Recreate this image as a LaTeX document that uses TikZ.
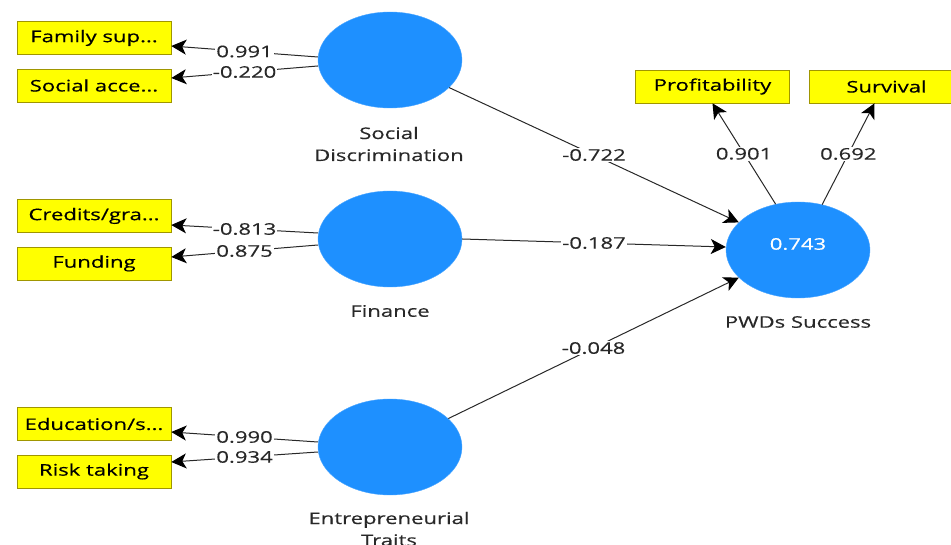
\documentclass[tikz,border=0pt]{standalone}
\usepackage{fontspec}
\setmainfont[FakeStretch=1.38,FakeBold=0.4]{Open Sans}
\usetikzlibrary{shapes.geometric,arrows.meta}
\definecolor{lvblue}{RGB}{30,144,255}
\definecolor{mvyellow}{RGB}{255,255,0}
\definecolor{mvborder}{RGB}{160,150,0}
\definecolor{txtgray}{RGB}{40,40,40}
\tikzset{
  latent/.style={ellipse, fill=lvblue, draw=lvblue!80!white, minimum width=144pt, minimum height=96pt, inner sep=0pt},
  manifest/.style={rectangle, fill=mvyellow, draw=mvborder, line width=0.6pt, minimum width=154pt, minimum height=33pt, inner sep=0pt, text=black},
  lvname/.style={text=txtgray, align=center},
  conn/.style={draw=txtgray, line width=1pt, -{Stealth[length=15pt,width=15pt,inset=4pt,fill=black,color=black]}},
  coef/.style={fill=white, inner sep=1pt, text=txtgray, pos=0.5}
}
\begin{document}
\begin{tikzpicture}[x=1pt,y=-1pt,font=\fontsize{16}{22}\selectfont]
\useasboundingbox (0,0) rectangle (951,545);
% latent variables
\node[latent] (sd) at (390,60) {};
\node[latent] (fin) at (390,239) {};
\node[latent] (ent) at (390,447) {};
\node[latent] (pwd) at (798,250) {};
\node[text=white] (r2) at (798,244) {0.743};
% latent names
\node[lvname] (sdl) at (389,144) {Social\\Discrimination};
\node[lvname] (finl) at (390,311) {Finance};
\node[lvname] (entl) at (389,529) {Entrepreneurial\\Traits};
\node[lvname] (pwdl) at (798,322) {PWDs Success};
% manifest variables
\node[manifest] (fam) at (94,38) {Family sup...};
\node[manifest] (soc) at (94,85.5) {Social acce...};
\node[manifest] (cred) at (94,216) {Credits/gra...};
\node[manifest] (fund) at (94,263.5) {Funding};
\node[manifest] (edu) at (94,424) {Education/s...};
\node[manifest] (risk) at (94,471.5) {Risk taking};
\node[manifest] (prof) at (712.5,86.5) {Profitability};
\node[manifest] (surv) at (886.5,86.5) {Survival};
% outer loadings
\draw[conn] ([yshift=3pt]sd.west) -- node[coef] {0.991} ([yshift=-8pt]fam.east);
\draw[conn] ([yshift=-6pt]sd.west) -- node[coef] {-0.220} ([yshift=7.5pt]soc.east);
\draw[conn] ([yshift=6pt]fin.west) -- node[coef] {-0.813} ([yshift=-9pt]cred.east);
\draw[conn] ([yshift=-6pt]fin.west) -- node[coef] {0.875} ([yshift=6.5pt]fund.east);
\draw[conn] ([yshift=5pt]ent.west) -- node[coef] {0.990} ([yshift=-8pt]edu.east);
\draw[conn] ([yshift=-5pt]ent.west) -- node[coef] {0.934} ([yshift=9.5pt]risk.east);
\draw[conn] (pwd.116) -- node[coef] {0.901} (prof.south);
\draw[conn] (pwd.62) -- node[coef] {0.692} ([xshift=-12pt]surv.south);
% path coefficients
\draw[conn] (sd.335) -- node[coef] {-0.722} (pwd.155);
\draw[conn] (fin.east) -- node[coef] {-0.187} ([yshift=3pt]pwd.west);
\draw[conn] (ent.26) -- node[coef] {-0.048} (pwd.205);
\end{tikzpicture}
\end{document}
